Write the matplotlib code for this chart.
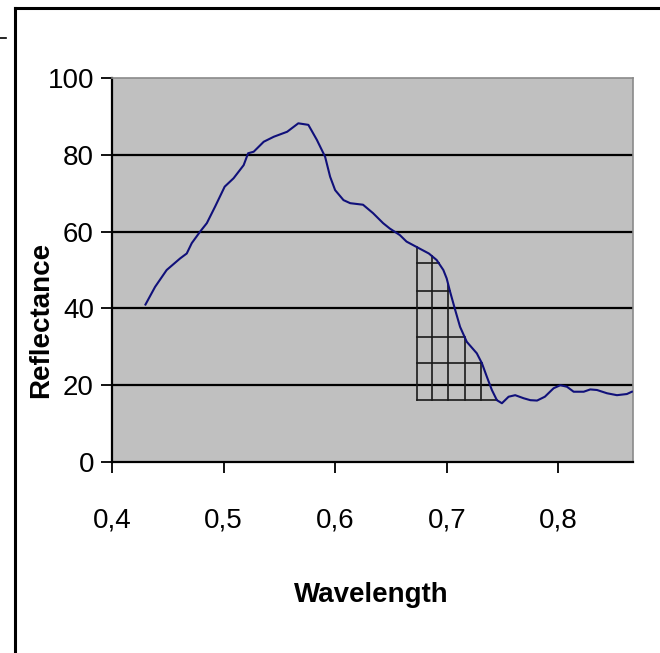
import numpy as np
import matplotlib
matplotlib.use("Agg")
import matplotlib.pyplot as plt
from matplotlib.lines import Line2D
from matplotlib import font_manager

# ---- data ----
wavelength = [0.430, 0.4386, 0.449, 0.461, 0.467, 0.4715, 0.479, 0.485, 0.4924, 0.501,
              0.509, 0.518, 0.522, 0.527, 0.536, 0.545, 0.557, 0.567, 0.576, 0.5836,
              0.591, 0.5955, 0.600, 0.6075, 0.6135, 0.625, 0.634, 0.643, 0.649, 0.658,
              0.664, 0.673, 0.684, 0.691, 0.697, 0.700, 0.703, 0.7076, 0.712, 0.718,
              0.727, 0.7316, 0.736, 0.7405, 0.745, 0.7495, 0.7555, 0.7614, 0.769, 0.775,
              0.781, 0.788, 0.7958, 0.8018, 0.8078, 0.8138, 0.8228, 0.8287, 0.8347, 0.8437,
              0.8526, 0.8615, 0.866]
reflectance = [41.0, 45.6, 50.0, 53.0, 54.3, 57.0, 60.0, 62.2, 66.5, 71.7,
               73.9, 77.3, 80.4, 80.8, 83.4, 84.7, 86.0, 88.2, 87.8, 83.9,
               79.5, 74.3, 70.8, 68.2, 67.4, 67.0, 64.8, 62.2, 60.8, 59.1,
               57.4, 56.0, 54.3, 52.6, 50.0, 47.8, 44.4, 39.6, 35.2, 31.3,
               28.3, 25.7, 22.2, 18.75, 16.1, 15.3, 17.0, 17.4, 16.6, 16.1,
               16.0, 17.0, 19.2, 20.0, 19.6, 18.3, 18.3, 18.9, 18.75, 17.9,
               17.4, 17.7, 18.3]

hatch_x = [0.6735, 0.687, 0.7013, 0.7166, 0.731]
hatch_y = [16.1, 25.8, 32.5, 44.5, 51.8]

x_ticks = [0.4, 0.5, 0.6, 0.7, 0.8]
x_tick_labels = ["0,4", "0,5", "0,6", "0,7", "0,8"]
y_ticks = [0, 20, 40, 60, 80, 100]
y_tick_labels = ["0", "20", "40", "60", "80", "100"]
x_label = "Wavelength"
y_label = "Reflectance"

# ---- fonts ----
available = {f.name for f in font_manager.fontManager.ttflist}
fam = [f for f in ["Liberation Sans Narrow", "Liberation Sans", "DejaVu Sans"] if f in available]

W, H = 660, 653
fig = plt.figure(figsize=(W / 100, H / 100), dpi=100)
fig.patch.set_facecolor("white")

ax = fig.add_axes([112 / W, 1 - 462 / H, (633 - 112) / W, (462 - 78) / H])
ax.set_facecolor("#c0c0c0")
ax.set_xlim(0.4, 0.867)
ax.set_ylim(0, 100)

for g in [20, 40, 60, 80]:
    ax.axhline(g, color="black", lw=1.6, zorder=1)

# curve
ax.plot(wavelength, reflectance, color="#10107a", lw=1.5, zorder=3)

# hatched area (grid under the curve)
wx = np.array(wavelength)
wy = np.array(reflectance)
mask = (wx > 0.66) & (wx < 0.76)
seg_x = wx[mask]
seg_y = wy[mask]
imin = np.argmin(seg_y)
desc_x = seg_x[:imin + 1][::-1]
desc_y = seg_y[:imin + 1][::-1]
x0 = hatch_x[0]
bottom = hatch_y[0]
for hx in hatch_x:
    top = np.interp(hx, wx, wy)
    ax.plot([hx, hx], [bottom, top], color="#1a1a1a", lw=1.2, zorder=2)
for hy in hatch_y:
    xr = np.interp(hy, desc_y, desc_x)
    ax.plot([x0, xr], [hy, hy], color="#1a1a1a", lw=1.2, zorder=2)

ax.set_xticks(x_ticks)
ax.set_xticklabels(x_tick_labels, family=fam, fontsize=20)
ax.set_yticks(y_ticks)
ax.set_yticklabels(y_tick_labels, family=fam, fontsize=20)
ax.tick_params(axis="both", direction="out", length=8, width=1.3, colors="black")
ax.tick_params(axis="x", pad=25)
ax.tick_params(axis="y", pad=5)

for s in ["left", "bottom"]:
    ax.spines[s].set_color("black")
    ax.spines[s].set_linewidth(1.6)
for s in ["top", "right"]:
    ax.spines[s].set_color("#8a8a8a")
    ax.spines[s].set_linewidth(1.2)

fig.text(371 / W, 1 - 595 / H, x_label, ha="center", va="center",
         fontsize=20, fontweight="bold", family=fam)
fig.text(41 / W, 1 - 320 / H, y_label, ha="center", va="center", rotation=90,
         fontsize=20, fontweight="bold", family=fam)

# outer chart border and stray tick
fig.add_artist(Line2D([15 / W, 15 / W], [0, 1 - 8 / H], color="black", lw=2.2,
                      transform=fig.transFigure))
fig.add_artist(Line2D([15 / W, 1], [1 - 8 / H, 1 - 8 / H], color="black", lw=2.2,
                      transform=fig.transFigure))
fig.add_artist(Line2D([0, 6 / W], [1 - 38 / H, 1 - 38 / H], color="black", lw=1.2,
                      transform=fig.transFigure))

fig.savefig("out.png", dpi=100, facecolor="white")
